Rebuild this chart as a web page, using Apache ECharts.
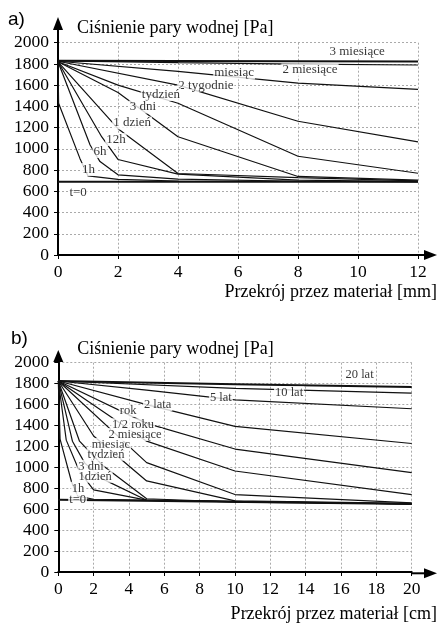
<!DOCTYPE html>
<html><head><meta charset="utf-8">
<script src="https://cdn.jsdelivr.net/npm/echarts@6/dist/echarts.min.js"></script>
<style>html,body{margin:0;padding:0;background:#fff}#c{width:438px;height:623px}</style>
</head><body><div id="c"></div>
<script>
// ---- Chart a) : x in mm ----
const A_t0 = [[0,690],[12,690]];
const A_1h = [[0,1820],[0.02,1430],[0.73,910],[1,745],[2,712],[4,697],[12,690]];
const A_6h = [[0,1820],[1.07,1036],[1.4,880],[2,755],[4,715],[8,695],[12,690]];
const A_12h = [[0,1820],[1.46,1112],[2,900],[4,762],[8,705],[12,692]];
const A_1d = [[0,1820],[2,1190],[4,768],[8,728],[12,698]];
const A_3d = [[0,1820],[2,1530],[4,1114],[8,740],[12,705]];
const A_1w = [[0,1820],[2,1600],[4,1430],[8,930],[12,770]];
const A_2w = [[0,1825],[4,1600],[8,1260],[12,1065]];
const A_1m = [[0,1825],[4,1730],[8,1620],[12,1560]];
const A_2m = [[0,1828],[4,1812],[8,1798],[12,1790]];
const A_3m = [[0,1830],[12,1822]];
const A_lines = [A_t0,A_1h,A_6h,A_12h,A_1d,A_3d,A_1w,A_2w,A_1m,A_2m,A_3m];
const A_labels = [['3 miesiące',9.97,1912],['2 miesiące',8.4,1743],['miesiąc',5.87,1715],['2 tygodnie',4.93,1597],['tydzień',3.43,1512],['3 dni',2.83,1394],['1 dzień',2.47,1243],['12h',1.93,1088],['6h',1.4,975],['1h',1.02,805],['t=0',0.67,590]];

// ---- Chart b) : x in cm ----
const B_t0 = [[0,690],[20,650]];
const B_1h = [[0,1825],[0.1,1270],[0.75,860],[1.1,725],[2,695],[20,650]];
const B_1d = [[0,1825],[0.45,1260],[1.2,960],[2,784],[5,687],[20,650]];
const B_3d = [[0,1825],[0.8,1250],[1.5,1040],[2.5,890],[5,685],[20,650]];
const B_1w = [[0,1825],[1.2,1250],[2.5,1020],[5,700],[10,668],[20,652]];
const B_1m = [[0,1825],[2,1300],[5,870],[10,680],[20,655]];
const B_2m = [[0,1825],[5,1045],[10,740],[20,660]];
const B_half = [[0,1825],[5,1250],[10,965],[20,740]];
const B_1y = [[0,1825],[5,1420],[10,1175],[20,950]];
const B_2y = [[0,1825],[5,1600],[10,1392],[20,1228]];
const B_5y = [[0,1825],[5,1738],[10,1645],[20,1560]];
const B_10y = [[0,1825],[10,1755],[20,1710]];
const B_20y = [[0,1825],[10,1795],[20,1768]];
const B_lines = [B_t0,B_1h,B_1d,B_3d,B_1w,B_1m,B_2m,B_half,B_1y,B_2y,B_5y,B_10y,B_20y];
const B_labels = [['20 lat',17.05,1883],['10 lat',13.06,1712],['5 lat',9.2,1665],['2 lata',5.62,1598],['rok',3.95,1541],['1/2 roku',4.23,1408],['2 miesiące',4.34,1313],['miesiąc',2.98,1218],['tydzień',2.7,1124],['3 dni',1.85,1010],['1dzień',2.08,914],['1h',1.12,800],['t=0',1.09,687]];

const yTitle = 'Ciśnienie pary wodnej [Pa]';
const xTitleA = 'Przekrój przez materiał [mm]';
const xTitleB = 'Przekrój przez materiał [cm]';

const SERIF = 'Liberation Serif';
const chart = echarts.init(document.getElementById('c'), null, {renderer:'canvas'});

function xAx(idx, max, name, gap, padTop){
  return {gridIndex: idx, type:'value', min:0, max:max, interval:2,
    name:name, nameLocation:'end', nameGap:gap,
    nameTextStyle:{fontFamily:SERIF, fontSize:18, color:'#000', align:'right', verticalAlign:'top', padding:[padTop,0,0,0]},
    axisLine:{show:true, lineStyle:{color:'#000', width:2}},
    axisTick:{show:true, length:4, lineStyle:{color:'#000'}},
    axisLabel:{fontFamily:SERIF, fontSize:17.5, color:'#000', margin:8, formatter:(v)=>String(v)},
    splitLine:{show:true, lineStyle:{color:'#aaa', type:[2,2], width:1}}};
}
function yAx(idx, gap){
  return {gridIndex: idx, type:'value', min:0, max:2000, interval:200,
    name:yTitle, nameLocation:'end', nameGap:gap,
    nameTextStyle:{fontFamily:SERIF, fontSize:18, color:'#000', align:'left', padding:[0,0,0,19]},
    axisLine:{show:true, lineStyle:{color:'#000', width:2}},
    axisTick:{show:true, length:4, lineStyle:{color:'#000'}},
    axisLabel:{fontFamily:SERIF, fontSize:17.5, color:'#000', margin:9, formatter:(v)=>String(v)},
    splitLine:{show:true, lineStyle:{color:'#aaa', type:[2,2], width:1}}};
}
const series = [];
A_lines.forEach((d,i)=>series.push({type:'line', xAxisIndex:0, yAxisIndex:0, data:d, showSymbol:false, silent:true,
  lineStyle:{color:'#111', width:(i===0||i===10)?2:1.2}, z:3}));
B_lines.forEach((d,i)=>series.push({type:'line', xAxisIndex:1, yAxisIndex:1, data:d, showSymbol:false, silent:true,
  lineStyle:{color:'#111', width:(i===0||i===12)?2:1.2}, z:3}));
function labelSeries(ax, labels, fs){
  return {type:'scatter', xAxisIndex:ax, yAxisIndex:ax, symbolSize:0, silent:true, z:10,
    data: labels.map(l=>({name:l[0], value:[l[1],l[2]]})),
    label:{show:true, position:'inside', formatter:'{b}', fontFamily:SERIF, fontSize:fs, color:'#000',
      backgroundColor:'#fff', padding:[0,1,0,1]}};
}
series.push(labelSeries(0, A_labels, 13));
series.push(labelSeries(1, B_labels, 12.5));

const arrow = (pts)=>({type:'polygon', shape:{points:pts}, style:{fill:'#000'}, silent:true, z:20});
const seg = (x1,y1,x2,y2)=>({type:'line', shape:{x1,y1,x2,y2}, style:{stroke:'#000', lineWidth:2}, silent:true, z:20});

chart.setOption({
  animation:false,
  backgroundColor:'#fff',
  title:[
    {text:'a)', left:3, top:5, textStyle:{fontFamily:'Liberation Sans', fontSize:19, fontWeight:'normal', color:'#000'}},
    {text:'b)', left:6, top:324, textStyle:{fontFamily:'Liberation Sans', fontSize:19, fontWeight:'normal', color:'#000'}}
  ],
  grid:[
    {left:58, top:42.7, width:360, height:212.3, containLabel:false},
    {left:58.3, top:362.7, width:353.4, height:210.6, containLabel:false}
  ],
  xAxis:[xAx(0,12,xTitleA,19,28), xAx(1,20,xTitleB,25.3,33)],
  yAxis:[yAx(0,5), yAx(1,4)],
  series: series,
  graphic:[
    seg(58,43,58,28), arrow([[53,30],[63,30],[58,17]]),
    seg(418,255,426,255), arrow([[424,250],[424,260],[437,255]]),
    seg(58.3,363,58.3,360), arrow([[53.3,362],[63.3,362],[58.3,350]]),
    seg(411.7,573.3,426,573.3), arrow([[424,568.3],[424,578.3],[437,573.3]])
  ]
});
</script></body></html>
